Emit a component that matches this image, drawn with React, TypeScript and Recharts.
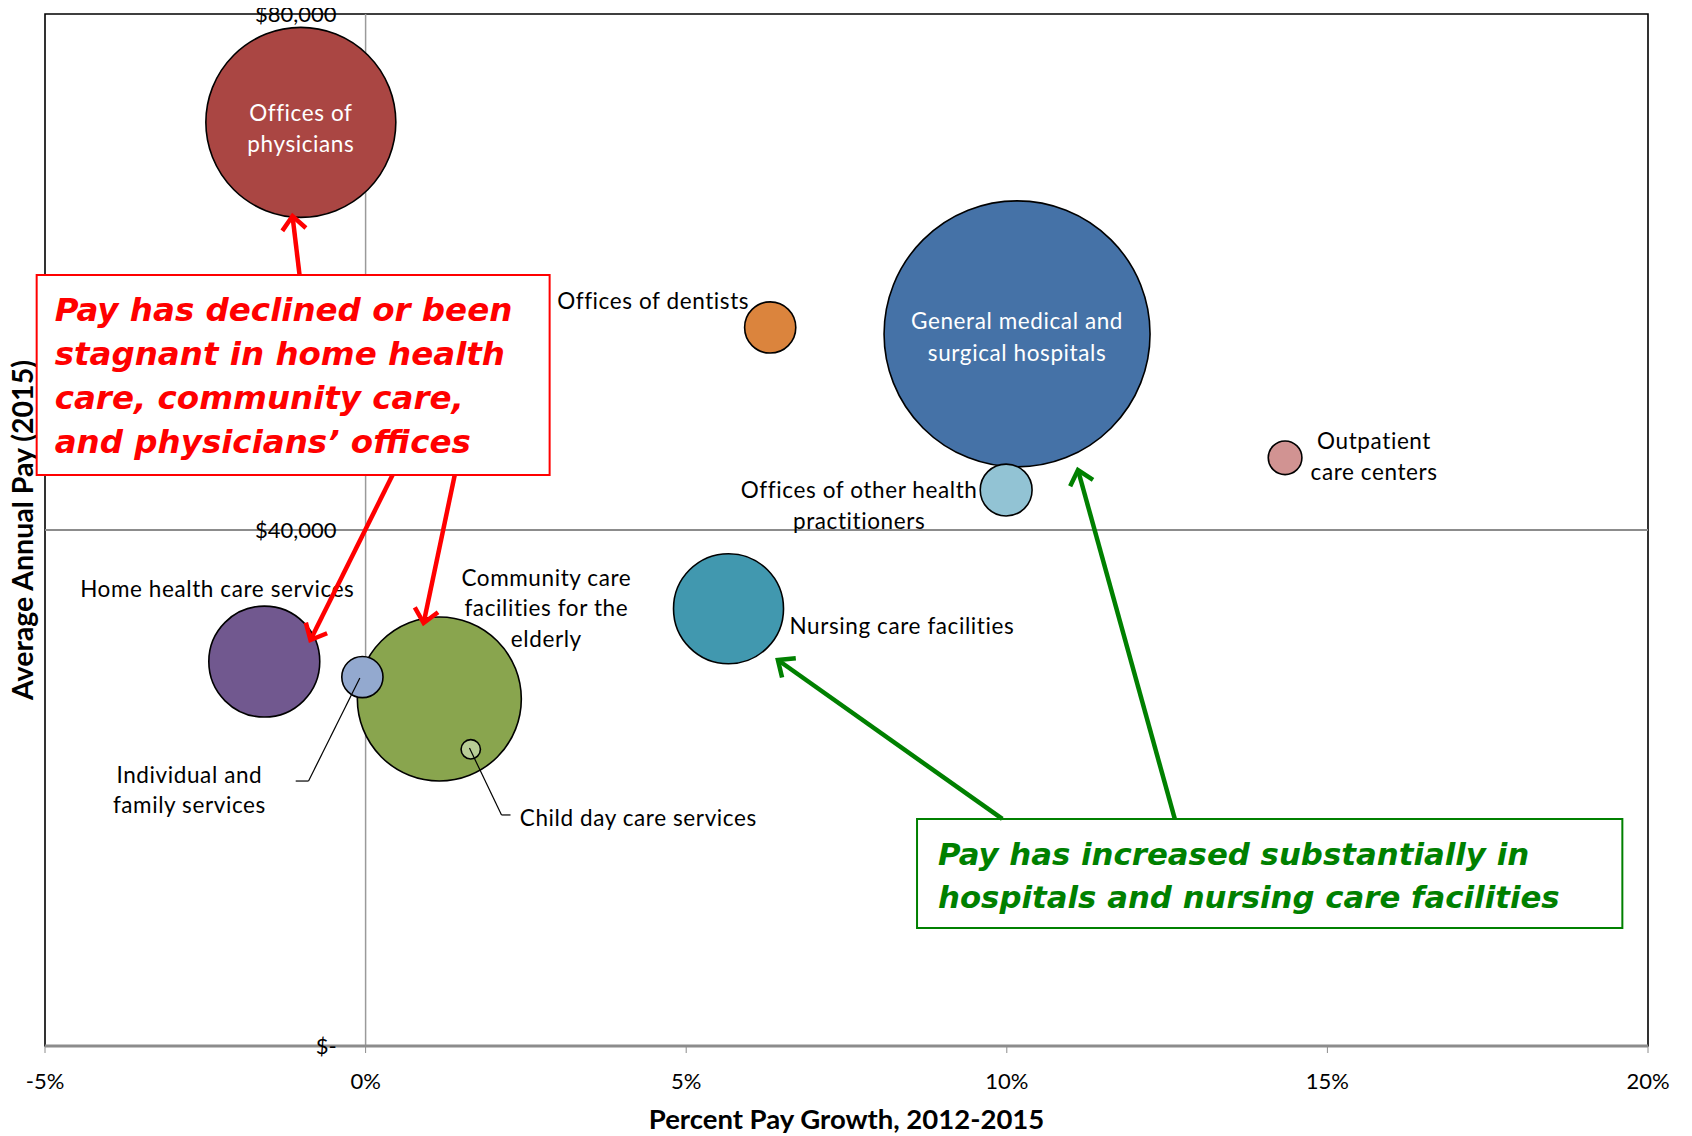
import React from "react";
import {
  ScatterChart,
  Scatter,
  XAxis,
  YAxis,
  ZAxis,
  Cell,
  ReferenceLine,
  ReferenceArea,
  ReferenceDot,
} from "recharts";

// ---------------- Data ----------------
const industries = [
  "General medical and surgical hospitals",
  "Offices of physicians",
  "Community care facilities for the elderly",
  "Home health care services",
  "Nursing care facilities",
  "Offices of other health practitioners",
  "Offices of dentists",
  "Individual and family services",
  "Outpatient care centers",
  "Child day care services",
];
const payGrowthPct = [10.16, -1.01, 1.15, -1.58, 5.66, 9.99, 6.31, -0.05, 14.34, 1.64];
const avgAnnualPay = [55200, 71600, 26900, 29800, 33900, 43100, 55700, 28600, 45600, 23000];
const employmentIndex = [100, 51, 38, 17.4, 17.1, 3.8, 3.7, 2.4, 1.6, 0.53];

const xTicks = [-5, 0, 5, 10, 15, 20];
const yTicks = [0, 40000, 80000];
const yTickLabels = ["$-", "$40,000", "$80,000"];

const redCallout = [
  "Pay has declined or been",
  "stagnant in home health",
  "care, community care,",
  "and physicians\u2019 offices",
];
const greenCallout = [
  "Pay has increased substantially in",
  "hospitals and nursing care facilities",
];

// ---------------- Styles / layout ----------------
const COLORS = [
  "#4572A7",
  "#AA4643",
  "#89A54E",
  "#71588F",
  "#4198AF",
  "#92C3D4",
  "#DB843D",
  "#93A9CF",
  "#D19392",
  "#B9CD96",
];

const LABEL_FONT = "Lato, 'Open Sans', sans-serif";
const CALLOUT_FONT = "'DejaVu Sans', sans-serif";

type LabelSpec = { lines: string[]; dx: number; dys: number[]; anchor: "start" | "middle" | "end"; color: string };
const labelLayout: Record<string, LabelSpec> = {
  "General medical and surgical hospitals": { lines: ["General medical and", "surgical hospitals"], dx: 0, dys: [-13, 19], anchor: "middle", color: "#fff" },
  "Offices of physicians": { lines: ["Offices of", "physicians"], dx: 0, dys: [-10, 21], anchor: "middle", color: "#fff" },
  "Community care facilities for the elderly": { lines: ["Community care", "facilities for the", "elderly"], dx: 107, dys: [-121, -91, -60], anchor: "middle", color: "#000" },
  "Home health care services": { lines: ["Home  health care services"], dx: -47, dys: [-73], anchor: "middle", color: "#000" },
  "Nursing care facilities": { lines: ["Nursing care facilities"], dx: 61, dys: [17], anchor: "start", color: "#000" },
  "Offices of other health practitioners": { lines: ["Offices of other health", "practitioners"], dx: -147, dys: [-1, 30], anchor: "middle", color: "#000" },
  "Offices of dentists": { lines: ["Offices of dentists"], dx: -21, dys: [-27], anchor: "end", color: "#000" },
  "Individual and family services": { lines: ["Individual and", "family services"], dx: -173, dys: [97, 127], anchor: "middle", color: "#000" },
  "Outpatient care centers": { lines: ["Outpatient", "care centers"], dx: 89, dys: [-17, 14], anchor: "middle", color: "#000" },
  "Child day care services": { lines: ["Child day care services"], dx: 49, dys: [68], anchor: "start", color: "#000" },
};

const chartData = industries.map((name, i) => ({
  name,
  growth: payGrowthPct[i],
  pay: avgAnnualPay[i],
  size: employmentIndex[i],
}));

const MAX_R = 133;

function BubbleShape(props: any) {
  const { cx, cy, fill, payload } = props;
  const r = props.width ? props.width / 2 : Math.sqrt((props.size || 0) / Math.PI);
  const spec = labelLayout[payload?.name];
  return (
    <g>
      <circle cx={cx} cy={cy} r={r} fill={fill} stroke="#000" strokeWidth={1.6} />
      {spec &&
        spec.lines.map((ln, k) => (
          <text
            key={k}
            x={cx + spec.dx}
            y={cy + spec.dys[k]}
            textAnchor={spec.anchor}
            dominantBaseline="central"
            fontFamily={LABEL_FONT}
            fontSize={22.5}
            letterSpacing={0.6}
            fill={spec.color}
          >
            {ln}
          </text>
        ))}
    </g>
  );
}

const arrowShape = (color: string, width: number) => (p: any) => {
  const { x1, y1, x2, y2 } = p;
  const ang = Math.atan2(y2 - y1, x2 - x1);
  const L = 18;
  const half = 0.72;
  const ax = x2 - L * Math.cos(ang - half);
  const ay = y2 - L * Math.sin(ang - half);
  const bx = x2 - L * Math.cos(ang + half);
  const by = y2 - L * Math.sin(ang + half);
  return (
    <g>
      <line x1={x1} y1={y1} x2={x2} y2={y2} stroke={color} strokeWidth={width} />
      <polyline points={`${ax},${ay} ${x2},${y2} ${bx},${by}`} fill="none" stroke={color} strokeWidth={width} strokeLinejoin="miter" />
    </g>
  );
};

const thinLine = (p: any) => <line x1={p.x1} y1={p.y1} x2={p.x2} y2={p.y2} stroke="#000" strokeWidth={1.2} />;

function CalloutText(props: any) {
  const { viewBox, lines, color, padX, firstDy, lineH, fontSize } = props;
  if (!viewBox) return null;
  return (
    <g>
      {lines.map((ln: string, k: number) => (
        <text
          key={k}
          x={viewBox.x + padX}
          y={viewBox.y + firstDy + k * lineH}
          dominantBaseline="central"
          fontFamily={CALLOUT_FONT}
          fontWeight="bold"
          fontStyle="italic"
          fontSize={fontSize}
          fill={color}
        >
          {ln}
        </text>
      ))}
    </g>
  );
}

function YTitle(props: any) {
  const { viewBox } = props;
  if (!viewBox) return null;
  const x = viewBox.x + 22;
  const y = viewBox.y + viewBox.height / 2;
  return (
    <text x={x} y={y} transform={`rotate(-90, ${x}, ${y})`} textAnchor="middle" dominantBaseline="central" fontFamily={LABEL_FONT} fontWeight="bold" fontSize={28.5} fill="#000">
      Average Annual Pay (2015)
    </text>
  );
}

export default function App() {
  return (
    <div style={{ width: 1692, height: 1136, margin: "-8px 0 0 -8px", background: "#fff" }}>
      <ScatterChart width={1692} height={1136} margin={{ top: 14, right: 44, bottom: 0, left: 0 }}>
        <XAxis
          type="number"
          dataKey="growth"
          domain={[-5, 20]}
          ticks={xTicks}
          allowDataOverflow
          height={90}
          axisLine={{ stroke: "#8c8c8c", strokeWidth: 3 }}
          tickLine={{ stroke: "#8c8c8c", strokeWidth: 1 }}
          tickSize={7}
          tickMargin={20}
          tick={{ fontFamily: LABEL_FONT, fontSize: 22, fill: "#000" }}
          tickFormatter={(v: number) => `${v}%`}
          label={{ value: "Percent Pay Growth, 2012-2015", position: "insideBottom", offset: 7, fontFamily: LABEL_FONT, fontWeight: "bold", fontSize: 27.5, fill: "#000" }}
        />
        <YAxis
          type="number"
          dataKey="pay"
          domain={[0, 80000]}
          ticks={yTicks}
          allowDataOverflow
          width={45}
          tick={false}
          axisLine={false}
          tickLine={false}
          label={<YTitle />}
        />
        <ZAxis type="number" dataKey="size" domain={[0, 100]} range={[0, Math.PI * MAX_R * MAX_R]} />

        <ReferenceArea x1={-5} x2={20} y1={0} y2={80000} fill="none" stroke="#000" strokeWidth={1.6} ifOverflow="visible" zIndex={0} />
        <ReferenceLine y={40000} stroke="#8c8c8c" strokeWidth={2} zIndex={10} />
        <ReferenceLine x={0} stroke="#9a9a9a" strokeWidth={1.5} zIndex={10} />

        {yTicks.map((v, i) => (
          <ReferenceDot
            key={v}
            x={0}
            y={v}
            r={0}
            fill="none"
            stroke="none"
            ifOverflow="visible"
            label={{ value: yTickLabels[i], position: "left", offset: 29, fontFamily: LABEL_FONT, fontSize: 22, fill: "#000" }}
          />
        ))}

        <Scatter data={chartData} shape={BubbleShape} isAnimationActive={false}>
          {chartData.map((d, i) => (
            <Cell key={d.name} fill={COLORS[i]} />
          ))}
        </Scatter>

        {/* leader lines */}
        <ReferenceLine segment={[{ x: -0.09, y: 28530 }, { x: -0.89, y: 20540 }]} shape={thinLine} ifOverflow="visible" zIndex={900} />
        <ReferenceLine segment={[{ x: -0.89, y: 20540 }, { x: -1.09, y: 20540 }]} shape={thinLine} ifOverflow="visible" zIndex={900} />
        <ReferenceLine segment={[{ x: 1.62, y: 23100 }, { x: 2.12, y: 17910 }]} shape={thinLine} ifOverflow="visible" zIndex={900} />
        <ReferenceLine segment={[{ x: 2.12, y: 17910 }, { x: 2.26, y: 17910 }]} shape={thinLine} ifOverflow="visible" zIndex={900} />

        {/* callout boxes */}
        <ReferenceArea
          x1={-5.13}
          x2={2.87}
          y1={44260}
          y2={59770}
          fill="#fff"
          fillOpacity={1}
          stroke="#ff0000"
          strokeWidth={2}
          ifOverflow="visible"
          zIndex={700}
          label={<CalloutText lines={redCallout} color="#ff0000" padX={18} firstDy={35} lineH={44} fontSize={32.5} />}
        />
        <ReferenceArea
          x1={8.6}
          x2={19.6}
          y1={9150}
          y2={17600}
          fill="#fff"
          fillOpacity={1}
          stroke="#008000"
          strokeWidth={2}
          ifOverflow="visible"
          zIndex={700}
          label={<CalloutText lines={greenCallout} color="#008000" padX={21} firstDy={35} lineH={43} fontSize={30.8} />}
        />

        {/* arrows */}
        <ReferenceLine segment={[{ x: -1.03, y: 59770 }, { x: -1.14, y: 64340 }]} shape={arrowShape("#ff0000", 4.5)} ifOverflow="visible" zIndex={800} />
        <ReferenceLine segment={[{ x: 0.42, y: 44260 }, { x: -0.86, y: 31470 }]} shape={arrowShape("#ff0000", 4.5)} ifOverflow="visible" zIndex={800} />
        <ReferenceLine segment={[{ x: 1.39, y: 44260 }, { x: 0.905, y: 32790 }]} shape={arrowShape("#ff0000", 4.5)} ifOverflow="visible" zIndex={800} />
        <ReferenceLine segment={[{ x: 9.93, y: 17600 }, { x: 6.43, y: 29920 }]} shape={arrowShape("#008000", 4.5)} ifOverflow="visible" zIndex={800} />
        <ReferenceLine segment={[{ x: 12.62, y: 17600 }, { x: 11.11, y: 44650 }]} shape={arrowShape("#008000", 4.5)} ifOverflow="visible" zIndex={800} />
      </ScatterChart>
    </div>
  );
}
